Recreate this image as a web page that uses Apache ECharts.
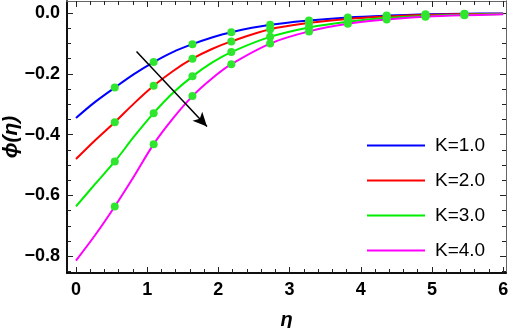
<!DOCTYPE html>
<html>
<head>
<meta charset="utf-8">
<script src="https://cdn.jsdelivr.net/npm/echarts@6/dist/echarts.min.js"></script>
<style>
  html, body { margin: 0; padding: 0; background: #fff; }
  #chart { width: 512px; height: 328px; }
</style>
</head>
<body>
<div id="chart"></div>
<script>
const eta = [0, 0.27, 0.545, 0.82, 1.091, 1.36, 1.636, 1.91, 2.182, 2.727, 3.273, 3.818, 4.364, 4.909, 5.455, 6.0];
// indices of eta that carry a green marker
const dotIdx = [2, 4, 6, 8, 9, 10, 11, 12, 13, 14];

const phiK1 = [-0.345, -0.292, -0.245, -0.200, -0.161, -0.128, -0.102, -0.080, -0.0625, -0.0385, -0.024, -0.014, -0.008, -0.004, -0.002, -0.001];
const phiK2 = [-0.480, -0.418, -0.359, -0.296, -0.239, -0.191, -0.150, -0.118, -0.093, -0.053, -0.032, -0.019, -0.011, -0.006, -0.003, -0.002];
const phiK3 = [-0.636, -0.562, -0.488, -0.405, -0.329, -0.263, -0.208, -0.163, -0.128, -0.078, -0.047, -0.028, -0.016, -0.009, -0.005, -0.003];
const phiK4 = [-0.814, -0.730, -0.636, -0.535, -0.431, -0.347, -0.273, -0.215, -0.168, -0.100, -0.060, -0.035, -0.021, -0.012, -0.007, -0.004];

const seriesNames = ['K=1.0', 'K=2.0', 'K=3.0', 'K=4.0'];
const seriesColors = ['#0000ff', '#ff0000', '#00ee00', '#ff00ff'];

const xMajor = [0, 1, 2, 3, 4, 5, 6];
const xMinor = [];
for (let i = 0; i <= 30; i++) xMinor.push(+(i * 0.2).toFixed(1));
const yMajor = [-0.8, -0.6, -0.4, -0.2, 0.0];
const yMinor = [];
for (let i = 0; i <= 17; i++) yMinor.push(+(-0.85 + i * 0.05).toFixed(2));

// arrow annotation (data coords)
const arrowFrom = [0.85, -0.126];
const arrowTo = [1.84, -0.373];

const chart = echarts.init(document.getElementById('chart'));

const font = 'Arial, "Liberation Sans", sans-serif';
const fmtY = v => (v < 0 ? '\u2212' : '') + Math.abs(v).toFixed(1);

function xAxisDef(pos, ticks, len, showLabel, lineColor, lineW) {
  return {
    type: 'value', position: pos, min: -0.126, max: 6.04,
    axisLine: { show: true, onZero: false, lineStyle: { color: lineColor, width: lineW } },
    axisTick: { show: true, inside: true, length: len, customValues: ticks, lineStyle: { color: '#222', width: 1 } },
    axisLabel: { show: showLabel, customValues: xMajor, color: '#000', fontFamily: font, fontWeight: 'bold', fontSize: 18, margin: 8 },
    splitLine: { show: false }
  };
}
function yAxisDef(pos, ticks, len, showLabel, lineColor, lineW) {
  return {
    type: 'value', position: pos, min: -0.855, max: 0.04,
    axisLine: { show: true, onZero: false, lineStyle: { color: lineColor, width: lineW } },
    axisTick: { show: true, inside: true, length: len, customValues: ticks, lineStyle: { color: '#222', width: 1 } },
    axisLabel: { show: showLabel, customValues: yMajor, formatter: fmtY, color: '#000', fontFamily: font, fontWeight: 'bold', fontSize: 18, margin: 7 },
    splitLine: { show: false }
  };
}

const xAxes = [
  xAxisDef('bottom', xMajor, 6, true, '#000', 1.5),
  xAxisDef('bottom', xMinor, 4, false, '#000', 1.5),
  xAxisDef('top', xMajor, 6, false, '#666', 1),
  xAxisDef('top', xMinor, 4, false, '#666', 1)
];
xAxes[0].name = '\u03b7';
xAxes[0].nameLocation = 'middle';
xAxes[0].nameGap = 37;
xAxes[0].nameMoveOverlap = false;
xAxes[0].nameTextStyle = { fontFamily: font, fontStyle: 'italic', fontWeight: 'bold', fontSize: 20, color: '#000' };

const yAxes = [
  yAxisDef('left', yMajor, 6, true, '#000', 1.5),
  yAxisDef('left', yMinor, 4, false, '#000', 1.5),
  yAxisDef('right', yMajor, 6, false, '#666', 1),
  yAxisDef('right', yMinor, 4, false, '#666', 1)
];
yAxes[0].name = '\u03d5(\u03b7)';
yAxes[0].nameLocation = 'middle';
yAxes[0].nameRotate = 90;
yAxes[0].nameGap = 45;
yAxes[0].nameMoveOverlap = false;
yAxes[0].nameTextStyle = { fontFamily: font, fontStyle: 'italic', fontWeight: 'bold', fontSize: 21, color: '#000' };

const curves = [phiK1, phiK2, phiK3, phiK4];
const series = curves.map((vals, i) => ({
  name: seriesNames[i],
  type: 'line',
  data: eta.map((x, j) => [x, vals[j]]),
  smooth: 0.35,
  showSymbol: false,
  lineStyle: { color: seriesColors[i], width: 2 },
  itemStyle: { color: seriesColors[i] },
  z: 2
}));

const dots = [];
curves.forEach(vals => dotIdx.forEach(j => dots.push([eta[j], vals[j]])));
series.push({
  type: 'scatter',
  data: dots,
  symbolSize: 8,
  itemStyle: { color: '#2ee62e', opacity: 1 },
  z: 3,
  markLine: {
    silent: true,
    symbol: ['none', 'arrow'],
    symbolSize: [10, 14],
    label: { show: false },
    lineStyle: { color: '#000', width: 1.5, type: 'solid' },
    data: [[{ coord: arrowFrom }, { coord: arrowTo }]]
  }
});

chart.setOption({
  animation: false,
  backgroundColor: '#fff',
  grid: { left: 67, right: 6, top: 1, bottom: 55, outerBoundsMode: 'none', containLabel: false },
  xAxis: xAxes,
  yAxis: yAxes,
  legend: {
    data: seriesNames,
    orient: 'vertical',
    left: 362,
    top: 131,
    icon: 'rect',
    itemWidth: 58,
    itemHeight: 2,
    itemGap: 16,
    textStyle: { fontFamily: font, fontSize: 19, color: '#000', padding: [0, 0, 0, 5] }
  },
  series: series
});
</script>
</body>
</html>
